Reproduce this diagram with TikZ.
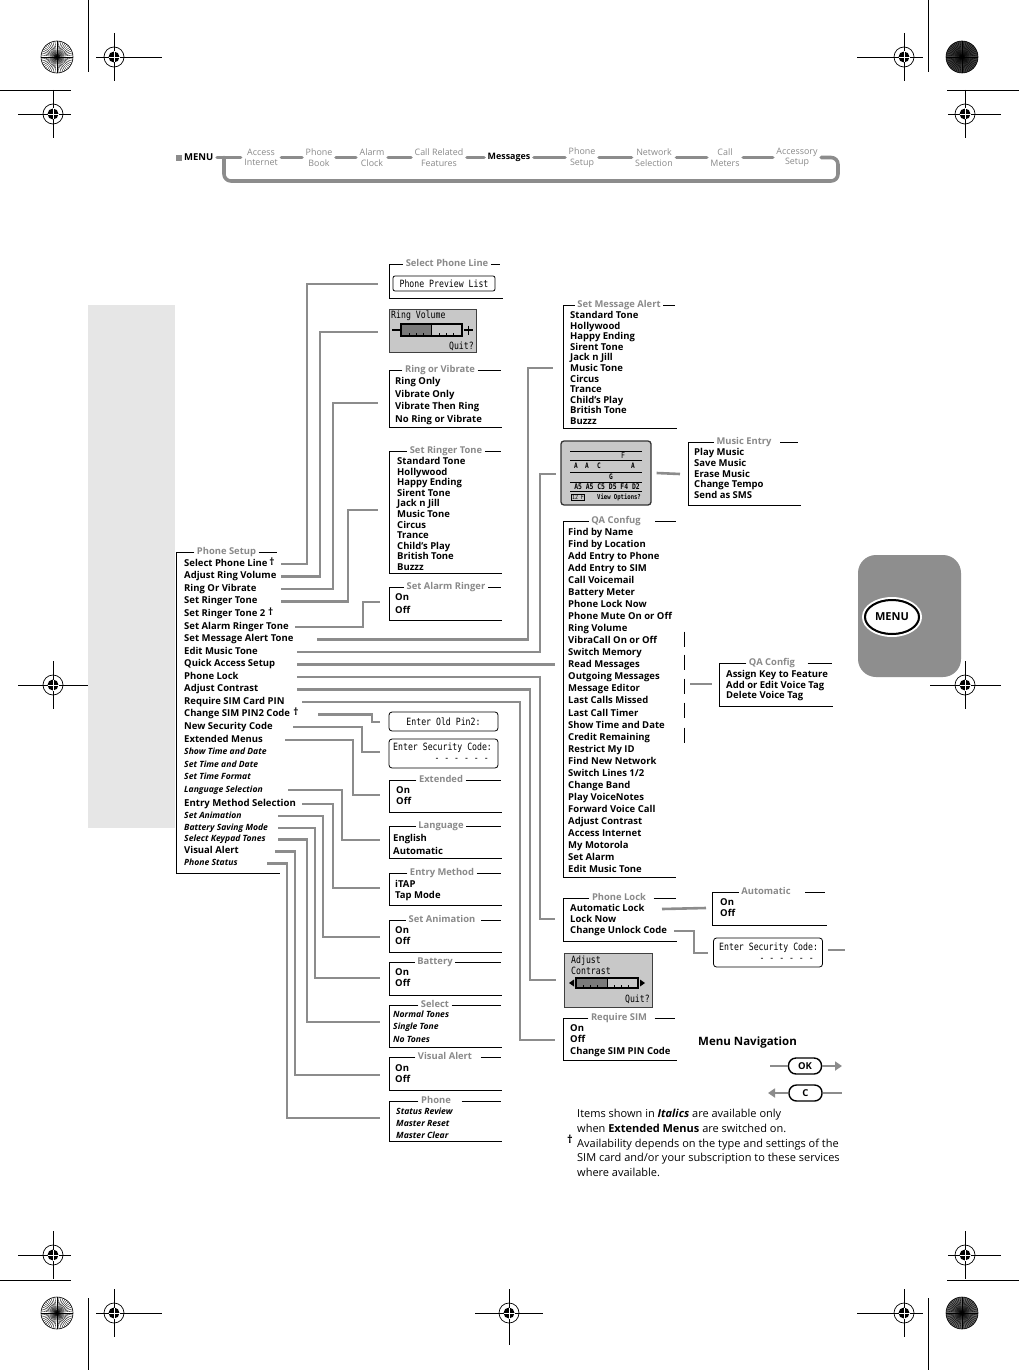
\documentclass[tikz,border=0pt]{standalone}
\usepackage{fontspec}
\setmainfont{Open Sans}
\newfontfamily\lcdfont{DejaVu Sans Mono}[FakeStretch=0.82]
\usetikzlibrary{arrows.meta,shapes.geometric}
\definecolor{lgrey}{HTML}{8C8C8C}
\definecolor{tgrey}{HTML}{8A8A8A}
\definecolor{lcdg}{HTML}{C8C8C8}
\definecolor{lcddark}{HTML}{7A7A7A}
\definecolor{panelg}{HTML}{E6E6E6}
\definecolor{tabg}{HTML}{8E8E8E}
\tikzset{
  conn/.style={draw=lgrey, line width=2.6pt},
  bline/.style={draw=black, line width=0.9pt},
  itm/.style={anchor=west, inner sep=0pt, text height=6.6pt, text depth=1.8pt, font=\fontsize{9.5}{10}\selectfont\bfseries},
  iti/.style={itm, font=\fontsize{8.6}{9}\selectfont\bfseries\itshape},
  ttl/.style={inner xsep=2.5pt, inner ysep=0pt, text height=6.6pt, text depth=1.8pt, text=tgrey, font=\fontsize{9.4}{10}\selectfont\bfseries},
  lcdt/.style={anchor=west, inner sep=0pt, font=\lcdfont\fontsize{10}{11}\selectfont},
  lcdtiny/.style={inner sep=0pt, font=\lcdfont\fontsize{6}{6}\selectfont},
  lcdscr/.style={draw=black!75, line width=0.9pt, fill=lcdg, inner sep=0pt},
  mtxt/.style={align=center, inner sep=1pt, text=tgrey, font=\fontsize{8.9}{10.5}\selectfont},
  mconn/.style={draw=lgrey, line width=3.6pt, line cap=round},
  dagn/.style={anchor=west, inner sep=0pt, font=\fontsize{10}{10}\selectfont\bfseries},
  btn/.style={draw=black, line width=1.4pt, rounded corners=7.5pt, inner sep=0pt, minimum width=33pt, minimum height=16pt, font=\fontsize{9.5}{10}\selectfont\bfseries},
  arr/.style={conn, -{Triangle[length=7pt,width=9pt]}},
}
% bracket box: name, x1, ytop, ybot, xtopright, xbotright, title x, gap, title
\newcommand\brbox[9]{%
  \node[ttl] (#1) at (#7,#3) {#9};
  \draw[bline] (#1.west) -- (#2,#3) -- (#2,#4) -- (#6,#4);
  \draw[bline] ([xshift=#8pt]#1.east) -- (#5,#3);
}
\newcommand\regmark[6]{%
  \draw[line width=0.7pt] (#3,#2) -- (#4,#2) (#1,#5) -- (#1,#6);
  \draw[line width=0.7pt] (#1,#2) circle[radius=10pt];
  \fill (#1,#2) circle[radius=5.5pt];
  \draw[white, line width=0.7pt] (#1-5.5,#2) -- (#1+5.5,#2) (#1,#2-5.5) -- (#1,#2+5.5);
}
\newcommand\starb[3]{%
  \fill[#3] (#1,#2) circle[radius=16pt];
  \foreach \a in {0,7.5,...,352.5} \draw[line width=0.35pt] (#1,#2) -- ++(\a:16pt);
  \draw[line width=0.6pt] (#1,#2) circle[radius=16pt];
}
\begin{document}
\begin{tikzpicture}[x=1pt,y=-1pt]
\useasboundingbox (0,0) rectangle (1019,1370);
\fill[white] (0,0) rectangle (1019,1370);

% ---------- printer marks ----------
\draw[line width=0.7pt] (88,0) -- (88,72) (0,90) -- (71,90) (928,0) -- (928,72) (947,90) -- (1019,90);
\draw[line width=0.7pt] (88,1298) -- (88,1370) (0,1280) -- (71,1280) (928,1298) -- (928,1370) (947,1280) -- (1019,1280);
\starb{57}{57}{white}
\starb{962}{57}{black!75}
\starb{57}{1313}{white}
\starb{962}{1313}{black!60}
\regmark{114}{57}{96}{162}{33}{81}
\regmark{904}{57}{857}{923}{33}{81}
\regmark{53}{114}{18}{71}{90}{138}
\regmark{965}{114}{948}{1001}{90}{138}
\regmark{53}{685}{18}{88}{661}{709}
\regmark{965}{685}{930}{1001}{661}{709}
\regmark{53}{1255}{18}{71}{1231}{1279}
\regmark{965}{1255}{948}{1001}{1231}{1279}
\regmark{114}{1313}{96}{162}{1289}{1337}
\regmark{904}{1313}{857}{923}{1289}{1337}
\regmark{509}{1313}{475}{543}{1289}{1345}

% ---------- grey panel and MENU tab ----------
\fill[panelg] (88,305) rectangle (175,828);
\fill[tabg, rounded corners=18pt] (858,555) rectangle (961,677);
\draw[white, line width=2pt] (892,617) ellipse [x radius=29pt, y radius=19pt];
\node[ellipse, draw=black, line width=2pt, fill=white, minimum width=54pt, minimum height=34pt, inner sep=0pt, font=\fontsize{11}{12}\selectfont\bfseries] (menubtn) at (892,617) {MENU};

% ---------- top menu bar ----------
\fill[lgrey] (175.5,154.5) rectangle (181.5,160.5);
\node[anchor=west, inner sep=1pt, font=\fontsize{9.5}{10}\selectfont\bfseries] (menu) at (183,157.5) {MENU};
\node[mtxt] (m1) at (261,157.5) {Access\\Internet};
\node[mtxt] (m2) at (319,157.5) {Phone\\Book};
\node[mtxt] (m3) at (372,157.5) {Alarm\\Clock};
\node[mtxt] (m4) at (439,157.5) {Call Related\\Features};
\node[mtxt, text=black, font=\fontsize{8.9}{10.5}\selectfont\bfseries] (m5) at (509,157.5) {Messages};
\node[mtxt] (m6) at (582,157.5) {Phone\\Setup};
\node[mtxt] (m7) at (654,157.5) {Network\\Selection};
\node[mtxt] (m8) at (725,157.5) {Call\\Meters};
\node[mtxt] (m9) at (797,157.5) {Accessory\\Setup};
\foreach \a/\b in {menu/m1,m1/m2,m2/m3,m3/m4,m4/m5,m5/m6,m6/m7,m7/m8,m8/m9}
  \draw[mconn, shorten <=2.5pt, shorten >=2.5pt] (\a) -- (\b);
\draw[mconn, rounded corners=7pt] ([xshift=2.5pt]m9.east) -- (838,157.5) -- (838,181) -- (224,181) -- (224,157.5);

% ---------- Phone Setup list ----------
\brbox{pst}{176}{552}{873}{277}{280}{226.5}{0}{Phone Setup}
\node[itm] (ps1) at (184,564) {Select Phone Line};
\node[itm] (ps2) at (184,576.5) {Adjust Ring Volume};
\node[itm] (ps3) at (184,589) {Ring Or Vibrate};
\node[itm] (ps4) at (184,601.5) {Set Ringer Tone};
\node[itm] (ps5) at (184,614) {Set Ringer Tone 2};
\node[itm] (ps6) at (184,627) {Set Alarm Ringer Tone};
\node[itm] (ps7) at (184,639.5) {Set Message Alert Tone};
\node[itm] (ps8) at (184,652) {Edit Music Tone};
\node[itm] (ps9) at (184,664.5) {Quick Access Setup};
\node[itm] (ps10) at (184,677) {Phone Lock};
\node[itm] (ps11) at (184,689.5) {Adjust Contrast};
\node[itm] (ps12) at (184,702) {Require SIM Card PIN};
\node[itm] (ps13) at (184,714.5) {Change SIM PIN2 Code};
\node[itm] (ps14) at (184,727) {New Security Code};
\node[itm] (ps15) at (184,740) {Extended Menus};
\node[iti] (ps16) at (184,752.5) {Show Time and Date};
\node[iti] (ps17) at (184,765) {Set Time and Date};
\node[iti] (ps18) at (184,777.5) {Set Time Format};
\node[iti] (ps19) at (184,790) {Language Selection};
\node[itm, font=\fontsize{9.6}{10}\selectfont\bfseries] (ps20) at (184,804) {Entry Method Selection};
\node[iti] (ps21) at (184,816) {Set Animation};
\node[iti] (ps22) at (184,828) {Battery Saving Mode};
\node[iti] (ps23) at (184,839.5) {Select Keypad Tones};
\node[itm] (ps24) at (184,851.5) {Visual Alert};
\node[iti] (ps25) at (184,863.5) {Phone Status};
\node[dagn] (dg1) at ([xshift=1.5pt,yshift=2.5pt]ps1.east) {†};
\node[dagn] (dg2) at ([xshift=2.5pt,yshift=2.5pt]ps5.east) {†};
\node[dagn] (dg3) at ([xshift=3pt,yshift=2.5pt]ps13.east) {†};

% ---------- right column boxes ----------
\brbox{splT}{389}{264}{298}{500}{503}{447}{0}{Select Phone Line}
\node[draw, line width=0.8pt, rounded corners=2pt, inner sep=0pt, minimum width=102pt, minimum height=15pt, font=\lcdfont\fontsize{10}{11}\selectfont] (ppl) at (444,283.5) {Phone Preview List};

\node[lcdscr, minimum width=87pt, minimum height=43pt] (rvl) at (432.5,331) {};
\node[lcdt] (rvlt) at (391,316) {Ring Volume};
\draw[line width=1.6pt] (392,330) -- (401,330);
\fill[lcddark] (401,324) rectangle (431,336);
\draw[line width=1.4pt] (401,324) rectangle (462,336);
\draw[line width=0.8pt] (431,324) -- (431,336);
\foreach \xx in {409,416,423,439,446,453} \draw[line width=1pt] (\xx,336) -- (\xx,332.5);
\draw[line width=1.2pt] (464,330) -- (473,330) (468.5,325.5) -- (468.5,334.5);
\node[lcdt, anchor=east] (rvlq) at (474,346) {Quit?};

\brbox{rovT}{389}{370}{427}{501}{502}{440}{0}{Ring or Vibrate}
\foreach \tx [count=\i] in {Ring Only,Vibrate Only,Vibrate Then Ring,No Ring or Vibrate}
  \node[itm] (rov\i) at (395,{382+(\i-1)*12.7}) {\tx};

\brbox{srtT}{389}{451}{573}{501}{502}{446}{0}{Set Ringer Tone}
\foreach \tx [count=\i] in {Standard Tone,Hollywood,Happy Ending,Sirent Tone,Jack n Jill,Music Tone,Circus,Trance,Child's Play,British Tone,Buzzz}
  \node[itm] (srt\i) at (397,{462+(\i-1)*10.6}) {\tx};

\brbox{sarT}{389}{587}{620}{501}{502}{446}{0}{Set Alarm Ringer}
\node[itm] (sar1) at (395,598.5) {On};
\node[itm] (sar2) at (395,611) {Off};

\node[draw, line width=0.8pt, rounded corners=3pt, inner sep=0pt, minimum width=109pt, minimum height=19pt, font=\lcdfont\fontsize{10}{11}\selectfont] (eop) at (443.5,721.5) {Enter Old Pin2:};
\node[draw, line width=0.8pt, rounded corners=3pt, inner sep=0pt, minimum width=109pt, minimum height=29pt] (esc1) at (443.5,753.5) {};
\node[lcdt] (esc1t) at (393,747.5) {Enter Security Code:};
\node[lcdt, anchor=east] (esc1d) at (489,760) {- - - - - -};

\brbox{extT}{389}{780}{812}{501}{502}{441}{0}{Extended}
\node[itm] (ext1) at (396,791) {On};
\node[itm] (ext2) at (396,802) {Off};

\brbox{lngT}{389}{826}{858}{501}{502}{441}{0}{Language}
\node[itm] (lng1) at (393,839.5) {English};
\node[itm] (lng2) at (393,852) {Automatic};

\brbox{emT}{389}{873}{905}{501}{502}{442}{0}{Entry Method}
\node[itm] (em1) at (395,885) {iTAP};
\node[itm] (em2) at (395,896) {Tap Mode};

\brbox{saT}{389}{920}{952}{501}{502}{442}{3}{Set Animation}
\node[itm] (sa1) at (395,931) {On};
\node[itm] (sa2) at (395,942) {Off};

\brbox{batT}{389}{962}{995}{501}{502}{435}{0}{Battery}
\node[itm] (bat1) at (395,973) {On};
\node[itm] (bat2) at (395,984) {Off};

\brbox{selT}{389}{1005}{1047}{501}{502}{435}{0}{Select}
\node[iti] (sel1) at (393,1015) {Normal Tones};
\node[iti] (sel2) at (393,1027.5) {Single Tone};
\node[iti] (sel3) at (393,1040) {No Tones};

\brbox{vaT}{389}{1057}{1090}{501}{502}{445}{6}{Visual Alert}
\node[itm] (va1) at (395,1069) {On};
\node[itm] (va2) at (395,1080) {Off};

\brbox{phT}{389}{1101}{1141}{501}{502}{436}{8}{Phone}
\node[iti] (ph1) at (396,1112) {Status Review};
\node[iti] (ph2) at (396,1124) {Master Reset};
\node[iti] (ph3) at (396,1136) {Master Clear};

% ---------- middle column ----------
\brbox{smaT}{563}{305}{428}{675}{677}{619}{0}{Set Message Alert}
\foreach \tx [count=\i] in {Standard Tone,Hollywood,Happy Ending,Sirent Tone,Jack n Jill,Music Tone,Circus,Trance,Child's Play,British Tone,Buzzz}
  \node[itm] (sma\i) at (570,{316+(\i-1)*10.6}) {\tx};

\node[lcdscr, draw=black!80, line width=1.3pt, rounded corners=3pt, minimum width=90pt, minimum height=64pt] (mlcd) at (606,473) {};
\foreach \yy in {451,460,472,482,491} \draw[line width=0.6pt] (570,\yy) -- (642,\yy);
\node[lcdtiny, font=\lcdfont\fontsize{8}{8}\selectfont] (mF) at (623,455.5) {F};
\node[lcdtiny, font=\lcdfont\fontsize{7.5}{7.5}\selectfont\bfseries] (mA1) at (576,466) {A};
\node[lcdtiny, font=\lcdfont\fontsize{7.5}{7.5}\selectfont\bfseries] (mA2) at (587,466) {A};
\node[lcdtiny, font=\lcdfont\fontsize{7.5}{7.5}\selectfont\bfseries] (mC) at (599,466) {C};
\node[lcdtiny, font=\lcdfont\fontsize{7.5}{7.5}\selectfont\bfseries] (mA3) at (633,466) {A};
\node[lcdtiny, font=\lcdfont\fontsize{7.5}{7.5}\selectfont\bfseries] (mG) at (611,477) {G};
\node[lcdtiny, font=\lcdfont\fontsize{7.8}{7.8}\selectfont\bfseries] (mrow) at (607,486.5) {A5 A5 C5 D5 F4 D2};
\node[lcdtiny, draw, line width=0.5pt, inner sep=0.8pt, font=\lcdfont\fontsize{6}{6}\selectfont] (m12) at (578,497) {12 F};
\node[lcdtiny, font=\lcdfont\fontsize{6.8}{6.8}\selectfont\bfseries] (mview) at (619,497) {View Options?};
\coordinate (mein) at (680,474);
\draw[conn] ([xshift=5pt]mlcd.east) -- (mein);

\brbox{meT}{688}{442}{505}{798}{801}{744}{6}{Music Entry}
\foreach \tx [count=\i] in {Play Music,Save Music,Erase Music,Change Tempo,Send as SMS}
  \node[itm] (me\i) at (694,{453+(\i-1)*10.8}) {\tx};

\brbox{qacT}{563}{521}{877}{676}{676}{616}{12}{QA Confug}
\foreach \tx [count=\i] in {Find by Name,Find by Location,Add Entry to Phone,Add Entry to SIM,Call Voicemail,Battery Meter,Phone Lock Now,Phone Mute On or Off,Ring Volume,VibraCall On or Off,Switch Memory,Read Messages,Outgoing Messages,Message Editor,Last Calls Missed,Last Call Timer,Show Time and Date,Credit Remaining,Restrict My ID,Find New Network,{Switch Lines 1/2},Change Band,Play VoiceNotes,Forward Voice Call,Adjust Contrast,Access Internet,My Motorola,Set Alarm,Edit Music Tone}
  \node[itm] (qa\i) at (568,{533+(\i-1)*12.04}) {\tx};
\foreach \yy in {639,662,686,710,735} \draw[line width=1pt] (684,\yy-7.5) -- (684,\yy+7.5);
\coordinate (qbar) at (690,684);
\coordinate (qcin) at (712,684);
\draw[conn] (qbar) -- (qcin);

\brbox{qcfT}{719}{663}{706}{832}{833}{772}{10}{QA Config}
\foreach \tx [count=\i] in {Assign Key to Feature,Add or Edit Voice Tag,Delete Voice Tag}
  \node[itm] (qc\i) at (726,{675+(\i-1)*10.7}) {\tx};

\brbox{plT}{563}{898}{941}{676}{677}{619}{5}{Phone Lock}
\node[itm] (pl1) at (570,909) {Automatic Lock};
\node[itm] (pl2) at (570,920) {Lock Now};
\node[itm] (pl3) at (570,931) {Change Unlock Code};

\brbox{autT}{712}{892}{925}{825}{827}{766}{12}{Automatic}
\node[itm] (au1) at (720,903) {On};
\node[itm] (au2) at (720,914) {Off};
\coordinate (autin) at (706,908);
\draw[conn] (pl1 -| 662,0) -- (autin);

\node[draw, line width=0.8pt, rounded corners=3pt, inner sep=0pt, minimum width=109pt, minimum height=29pt] (esc2) at (768,952.5) {};
\node[lcdt] (esc2t) at (719,947.5) {Enter Security Code:};
\node[lcdt, anchor=east] (esc2d) at (814,960) {- - - - - -};
\coordinate (esc2in) at (708,953);
\draw[conn] (pl3 -| 674,0) -| (esc2in -| 694,0) -- (esc2in);
\coordinate (escout) at (845,950);
\draw[conn] ([xshift=5pt,yshift=2.5pt]esc2.east) -- (escout);

\node[lcdscr, minimum width=88pt, minimum height=54pt] (acl) at (608,980) {};
\node[lcdt] (aclt1) at (571,960.5) {Adjust};
\node[lcdt] (aclt2) at (571,971) {Contrast};
\fill[lcddark] (576,978) rectangle (607,988);
\draw[line width=1.3pt] (576,978) rectangle (638,988);
\draw[line width=0.8pt] (607,978) -- (607,988);
\foreach \xx in {583,590,597,614,621,628} \draw[line width=1pt] (\xx,988) -- (\xx,984.5);
\fill (569,983) -- (574,979.5) -- (574,986.5) -- cycle;
\fill (645,983) -- (640,979.5) -- (640,986.5) -- cycle;
\node[lcdt, anchor=east] (aclq) at (650,999) {Quit?};

\brbox{rsT}{563}{1018}{1060}{675}{677}{619}{5}{Require SIM}
\node[itm] (rs1) at (570,1029.5) {On};
\node[itm] (rs2) at (570,1040.5) {Off};
\node[itm] (rs3) at (570,1052.5) {Change SIM PIN Code};

% ---------- connectors from Phone Setup ----------
\coordinate (t1) at (378,284);
\coordinate (t2) at (378,332);
\coordinate (t3) at (378,403);
\coordinate (t4) at (378,510);
\coordinate (t6) at (380,602);
\coordinate (t7) at (553,368);
\coordinate (t8) at (556,474);
\coordinate (t9) at (555,664.5);
\coordinate (t10) at (555,919);
\coordinate (t11) at (556,980);
\coordinate (t12) at (555,1040);
\coordinate (t13) at (380,722);
\coordinate (t14) at (380,752);
\coordinate (t15) at (380,795);
\coordinate (t19) at (380,840);
\coordinate (t20) at (380,888);
\coordinate (t21) at (380,937);
\coordinate (t22) at (380,978);
\coordinate (t23) at (380,1022);
\coordinate (t24) at (380,1075);
\coordinate (t25) at (380,1118);
\draw[conn] (ps1 -| 281,0) -| (t1 -| 307,0) -- (t1);
\draw[conn] (ps2 -| 281,0) -| (t2 -| 320,0) -- (t2);
\draw[conn] (ps3 -| 281,0) -| (t3 -| 333,0) -- (t3);
\draw[conn] (ps4 -| 281,0) -| (t4 -| 348,0) -- (t4);
\draw[conn] (ps6 -| 295,0) -| (t6 -| 363,0) -- (t6);
\draw[conn] (ps7 -| 317,0) -| (t7 -| 528,0) -- (t7);
\draw[conn] (ps8 -| 297,0) -| (t8 -| 540,0) -- (t8);
\draw[conn] (ps9 -| 297,0) -- (t9);
\draw[conn] (ps10 -| 297,0) -| (t10 -| 540,0) -- (t10);
\draw[conn] (ps11 -| 297,0) -| (t11 -| 530,0) -- (t11);
\draw[conn] (ps12 -| 302,0) -| (t12 -| 520,0) -- (t12);
\draw[conn] (ps13 -| 318,0) -| (t13 -| 372,0) -- (t13);
\draw[conn] (ps14 -| 293,0) -| (t14 -| 362,0) -- (t14);
\draw[conn] (ps15 -| 285,0) -| (t15 -| 353,0) -- (t15);
\draw[conn] (ps19 -| 288,0) -| (t19 -| 342,0) -- (t19);
\draw[conn] (ps20 -| 302,0) -| (t20 -| 333,0) -- (t20);
\draw[conn] (ps21 -| 278,0) -| (t21 -| 323,0) -- (t21);
\draw[conn] (ps22 -| 278,0) -| (t22 -| 315,0) -- (t22);
\draw[conn] (ps23 -| 278,0) -| (t23 -| 307,0) -- (t23);
\draw[conn] (ps24 -| 275,0) -| (t24 -| 295,0) -- (t24);
\draw[conn] (ps25 -| 267,0) -| (t25 -| 287,0) -- (t25);

% ---------- legend ----------
\node[anchor=west, inner sep=0pt, font=\fontsize{11.5}{12}\selectfont\bfseries] (mnav) at (698,1042) {Menu Navigation};
\node[btn] (okb) at (805,1066) {OK};
\coordinate (okl) at (770,1066);
\coordinate (okr) at (842,1066);
\draw[conn] (okl) -- (okb.west);
\draw[arr] (okb.east) -- (okr);
\node[btn] (cb) at (805.5,1093) {C};
\coordinate (cl) at (768,1093);
\coordinate (cr) at (842,1093);
\draw[arr] (cb.west) -- (cl);
\draw[conn] (cb.east) -- (cr);
\node[anchor=west, align=left, inner sep=0pt, font=\fontsize{11}{14.6}\selectfont] (leg) at (577,1143) {Items shown in \textbf{\textit{Italics}} are available only\\when \textbf{Extended Menus} are switched on.\\Availability depends on the type and settings of the\\SIM card and/or your subscription to these services\\where available.};
\node[inner sep=0pt, font=\fontsize{11}{12}\selectfont\bfseries] (ldag) at (570,1139) {†};
\end{tikzpicture}
\end{document}
